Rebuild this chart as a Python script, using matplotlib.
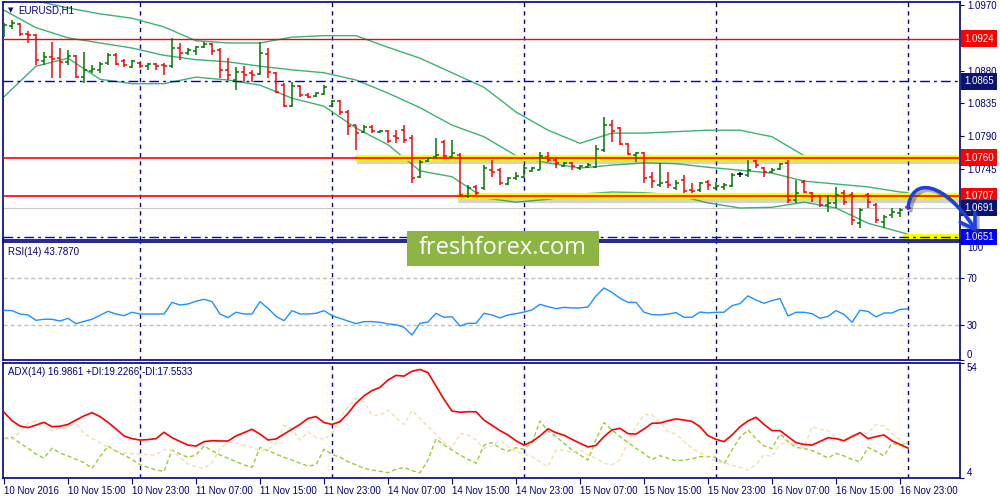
import matplotlib
matplotlib.use("Agg")
import matplotlib.pyplot as plt
import matplotlib.patheffects as pe
import matplotlib.transforms as mtransforms
from matplotlib.patches import Rectangle, FancyArrowPatch
from matplotlib.path import Path
import numpy as np

# ---- EURUSD H1 bars (10 Nov 07:00 -> 17 Nov 00:00) ----
opens = [1.0932, 1.0941, 1.0944, 1.0930, 1.0929, 1.0893, 1.0899, 1.0897, 1.0892, 1.0900,
         1.0871, 1.0879, 1.0881, 1.0890, 1.0901, 1.0893, 1.0885, 1.0890, 1.0886, 1.0889,
         1.0888, 1.0886, 1.0911, 1.0904, 1.0907, 1.0912, 1.0917, 1.0908, 1.0881, 1.0867,
         1.0878, 1.0877, 1.0875, 1.0903, 1.0877, 1.0860, 1.0831, 1.0859, 1.0846, 1.0845,
         1.0848, 1.0831, 1.0838, 1.0823, 1.0805, 1.0796, 1.0802, 1.0796, 1.0797, 1.0790,
         1.0798, 1.0787, 1.0734, 1.0756, 1.0761, 1.0782, 1.0761, 1.0764, 1.0708, 1.0720,
         1.0719, 1.0743, 1.0743, 1.0724, 1.0732, 1.0734, 1.0742, 1.0743, 1.0761, 1.0757,
         1.0749, 1.0753, 1.0746, 1.0747, 1.0747, 1.0771, 1.0805, 1.0801, 1.0779, 1.0764,
         1.0767, 1.0734, 1.0723, 1.0727, 1.0719, 1.0730, 1.0716, 1.0716, 1.0727, 1.0719,
         1.0720, 1.0721, 1.0738, 1.0736, 1.0756, 1.0746, 1.0741, 1.0745, 1.0753, 1.0702,
         1.0727, 1.0712, 1.0708, 1.0695, 1.0698, 1.0712, 1.0709, 1.0670, 1.0709, 1.0695,
         1.0672, 1.0681, 1.0684, 1.0692]
highs = [1.0945, 1.0950, 1.0945, 1.0934, 1.0930, 1.0906, 1.0919, 1.0911, 1.0908, 1.0901,
         1.0906, 1.0888, 1.0892, 1.0904, 1.0904, 1.0896, 1.0895, 1.0892, 1.0890, 1.0890,
         1.0890, 1.0925, 1.0918, 1.0911, 1.0914, 1.0919, 1.0918, 1.0911, 1.0897, 1.0885,
         1.0886, 1.0881, 1.0919, 1.0911, 1.0878, 1.0863, 1.0864, 1.0860, 1.0849, 1.0851,
         1.0860, 1.0840, 1.0840, 1.0826, 1.0805, 1.0805, 1.0805, 1.0798, 1.0798, 1.0798,
         1.0805, 1.0791, 1.0757, 1.0761, 1.0787, 1.0785, 1.0785, 1.0767, 1.0723, 1.0723,
         1.0750, 1.0757, 1.0746, 1.0734, 1.0741, 1.0750, 1.0747, 1.0768, 1.0768, 1.0760,
         1.0754, 1.0754, 1.0750, 1.0753, 1.0778, 1.0816, 1.0812, 1.0802, 1.0780, 1.0768,
         1.0768, 1.0741, 1.0753, 1.0741, 1.0730, 1.0736, 1.0725, 1.0727, 1.0730, 1.0727,
         1.0725, 1.0739, 1.0741, 1.0757, 1.0757, 1.0747, 1.0746, 1.0753, 1.0757, 1.0730,
         1.0730, 1.0713, 1.0709, 1.0709, 1.0720, 1.0716, 1.0713, 1.0691, 1.0712, 1.0698,
         1.0681, 1.0691, 1.0691, 1.0692]
lows = [1.0926, 1.0937, 1.0928, 1.0918, 1.0888, 1.0888, 1.0870, 1.0870, 1.0888, 1.0870,
        1.0863, 1.0877, 1.0877, 1.0888, 1.0888, 1.0885, 1.0884, 1.0884, 1.0881, 1.0881,
        1.0874, 1.0884, 1.0895, 1.0901, 1.0901, 1.0911, 1.0901, 1.0870, 1.0867, 1.0853,
        1.0864, 1.0864, 1.0874, 1.0870, 1.0849, 1.0830, 1.0830, 1.0844, 1.0842, 1.0844,
        1.0846, 1.0830, 1.0819, 1.0791, 1.0771, 1.0794, 1.0794, 1.0794, 1.0780, 1.0780,
        1.0780, 1.0725, 1.0732, 1.0754, 1.0760, 1.0760, 1.0760, 1.0706, 1.0705, 1.0709,
        1.0716, 1.0734, 1.0723, 1.0723, 1.0730, 1.0732, 1.0741, 1.0743, 1.0754, 1.0746,
        1.0747, 1.0743, 1.0743, 1.0746, 1.0746, 1.0768, 1.0782, 1.0778, 1.0764, 1.0754,
        1.0725, 1.0719, 1.0720, 1.0719, 1.0716, 1.0712, 1.0712, 1.0713, 1.0716, 1.0716,
        1.0716, 1.0720, 1.0734, 1.0734, 1.0746, 1.0734, 1.0739, 1.0743, 1.0698, 1.0698,
        1.0712, 1.0699, 1.0692, 1.0686, 1.0691, 1.0695, 1.0668, 1.0664, 1.0691, 1.0670,
        1.0664, 1.0677, 1.0679, 1.0688]
closes = [1.0943, 1.0945, 1.0930, 1.0929, 1.0895, 1.0899, 1.0896, 1.0892, 1.0900, 1.0871,
          1.0881, 1.0882, 1.0889, 1.0901, 1.0889, 1.0888, 1.0893, 1.0886, 1.0889, 1.0886,
          1.0886, 1.0911, 1.0904, 1.0908, 1.0912, 1.0917, 1.0907, 1.0881, 1.0874, 1.0878,
          1.0874, 1.0874, 1.0904, 1.0878, 1.0851, 1.0831, 1.0859, 1.0846, 1.0844, 1.0849,
          1.0857, 1.0838, 1.0823, 1.0804, 1.0794, 1.0802, 1.0797, 1.0797, 1.0783, 1.0787,
          1.0785, 1.0732, 1.0754, 1.0760, 1.0764, 1.0763, 1.0767, 1.0709, 1.0719, 1.0712,
          1.0746, 1.0741, 1.0725, 1.0732, 1.0735, 1.0746, 1.0746, 1.0763, 1.0757, 1.0753,
          1.0753, 1.0749, 1.0749, 1.0750, 1.0772, 1.0805, 1.0797, 1.0779, 1.0765, 1.0767,
          1.0732, 1.0728, 1.0725, 1.0723, 1.0725, 1.0714, 1.0714, 1.0725, 1.0723, 1.0721,
          1.0723, 1.0736, 1.0738, 1.0743, 1.0750, 1.0741, 1.0743, 1.0752, 1.0702, 1.0712,
          1.0713, 1.0708, 1.0695, 1.0698, 1.0709, 1.0699, 1.0675, 1.0688, 1.0699, 1.0675,
          1.0679, 1.0686, 1.0688, 1.0691]

# Bollinger bands read every 4 bars
band_idx = list(range(0, 113, 4)) + [113]
bb_upper = [1.0988, 1.0976, 1.0966, 1.0958, 1.0952, 1.0940, 1.0921, 1.0918, 1.0918, 1.0926,
            1.0928, 1.0928, 1.0912, 1.0897, 1.0877, 1.0857, 1.0823, 1.0798, 1.0780, 1.0794,
            1.0794, 1.0796, 1.0798, 1.0798, 1.0789, 1.0763, 1.0757, 1.0763, 1.0761, 1.0761]
bb_middle = [1.0963, 1.0939, 1.0925, 1.0918, 1.0911, 1.0901, 1.0895, 1.0892, 1.0886, 1.0881,
             1.0877, 1.0867, 1.0849, 1.0829, 1.0805, 1.0789, 1.0763, 1.0753, 1.0746, 1.0750,
             1.0753, 1.0752, 1.0747, 1.0743, 1.0739, 1.0728, 1.0724, 1.0720, 1.0713, 1.0712]
bb_lower = [1.0844, 1.0886, 1.0897, 1.0868, 1.0862, 1.0862, 1.0871, 1.0867, 1.0860, 1.0842,
            1.0831, 1.0801, 1.0778, 1.0742, 1.0734, 1.0705, 1.0699, 1.0703, 1.0710, 1.0713,
            1.0712, 1.0709, 1.0698, 1.0691, 1.0692, 1.0699, 1.0691, 1.0670, 1.0658, 1.0655]

rsi = [42.6, 42.3, 39.4, 38.6, 34.0, 34.9, 34.9, 33.4, 35.7, 31.1,
       33.1, 34.9, 38.3, 41.7, 39.4, 38.0, 40.9, 39.4, 39.4, 39.4,
       39.4, 49.4, 47.1, 48.0, 50.3, 52.0, 50.0, 39.4, 36.3, 40.9,
       39.4, 39.4, 50.0, 44.3, 37.4, 33.7, 42.3, 39.4, 39.4, 40.0,
       42.3, 38.0, 35.7, 33.4, 31.1, 32.9, 32.9, 32.3, 30.9, 30.3,
       28.0, 21.4, 31.4, 32.6, 40.0, 36.6, 37.1, 29.1, 31.4, 31.4,
       40.0, 38.6, 36.0, 38.6, 39.7, 41.1, 42.9, 47.7, 45.7, 44.0,
       45.1, 44.6, 44.6, 45.4, 54.9, 61.7, 58.0, 52.9, 49.4, 49.4,
       40.9, 38.9, 38.6, 39.4, 40.6, 36.6, 36.6, 41.1, 40.3, 40.9,
       40.9, 46.6, 48.3, 54.9, 51.4, 48.6, 50.9, 52.6, 37.7, 40.9,
       40.9, 39.7, 35.7, 37.4, 42.3, 39.1, 32.3, 42.6, 41.7, 36.9,
       40.3, 40.3, 43.4, 43.787]

adx = [32.6, 28.9, 26.6, 25.9, 27.0, 28.2, 26.3, 26.5, 27.3, 29.2,
       31.0, 32.4, 30.7, 28.2, 25.3, 22.3, 21.1, 20.5, 20.7, 21.1,
       23.9, 21.5, 19.9, 18.3, 17.9, 19.8, 20.2, 20.1, 20.1, 22.3,
       23.7, 25.2, 23.1, 20.5, 21.0, 23.1, 25.2, 27.3, 29.9, 30.7,
       28.1, 27.3, 28.5, 32.1, 36.5, 39.7, 42.0, 43.4, 46.6, 48.6,
       48.3, 50.4, 51.2, 49.8, 44.0, 38.2, 33.1, 32.6, 32.8, 32.8,
       29.2, 26.9, 24.6, 22.7, 20.2, 18.3, 19.8, 22.3, 25.4, 23.7,
       22.6, 20.8, 19.1, 17.5, 18.2, 22.0, 24.9, 25.6, 23.3, 23.1,
       25.3, 27.8, 27.9, 28.9, 29.7, 29.2, 28.6, 26.3, 22.4, 20.8,
       19.8, 22.7, 26.3, 28.8, 30.4, 27.3, 24.6, 24.6, 22.0, 19.4,
       18.6, 18.3, 19.9, 21.5, 21.1, 20.2, 22.0, 23.7, 21.1, 22.0,
       22.7, 20.2, 18.6, 16.9861]
plus_di = [21.2, 21.7, 19.1, 16.9, 14.4, 12.6, 16.9, 14.9, 13.6, 12.1,
           10.7, 8.2, 13.3, 17.9, 15.6, 14.0, 12.1, 9.8, 8.6, 7.5,
           6.9, 16.2, 14.4, 13.0, 14.0, 17.9, 15.9, 14.0, 12.6, 11.1,
           9.7, 8.6, 17.3, 15.9, 14.4, 13.0, 11.8, 10.4, 9.2, 9.7,
           16.5, 14.3, 13.0, 11.1, 9.7, 8.2, 7.5, 6.9, 6.3, 7.8,
           8.6, 7.2, 6.3, 11.8, 21.0, 18.3, 16.2, 14.0, 12.1, 10.4,
           18.3, 19.4, 16.9, 15.7, 17.2, 16.5, 19.4, 28.8, 24.4, 22.0,
           19.1, 16.2, 14.0, 11.8, 20.8, 28.1, 24.9, 22.0, 19.4, 16.9,
           14.6, 12.1, 13.7, 12.6, 11.5, 11.8, 12.3, 13.3, 13.3, 13.0,
           10.1, 16.2, 21.7, 24.9, 21.1, 17.9, 16.8, 23.1, 19.8, 17.3,
           16.9, 15.9, 14.4, 12.7, 14.7, 13.6, 12.1, 11.1, 17.3, 15.6,
           13.6, 19.1, 18.3, 19.2266]
minus_di = [21.1, 20.8, 24.1, 27.8, 28.9, 27.2, 24.6, 25.6, 26.6, 27.5,
            23.4, 21.2, 19.4, 17.3, 15.9, 14.9, 14.6, 14.4, 14.1, 14.0,
            16.5, 15.9, 13.0, 10.1, 8.9, 8.2, 10.7, 16.9, 19.4, 19.3,
            18.2, 17.3, 15.9, 16.5, 19.1, 26.9, 25.2, 20.5, 24.1, 21.7,
            20.8, 23.4, 29.9, 35.0, 38.6, 37.2, 31.4, 31.2, 33.6, 30.2,
            27.3, 33.3, 29.9, 26.3, 23.1, 19.3, 17.0, 23.4, 22.7, 20.5,
            16.9, 17.9, 20.5, 17.6, 15.6, 14.3, 13.3, 11.1, 8.9, 15.9,
            16.2, 15.0, 16.2, 14.0, 12.6, 10.4, 9.7, 11.8, 19.8, 26.3,
            31.5, 31.6, 28.2, 24.1, 23.1, 19.9, 16.9, 15.0, 13.0, 11.5,
            10.7, 9.5, 8.6, 7.5, 9.8, 14.0, 13.4, 18.8, 19.4, 18.3,
            16.9, 26.3, 25.2, 24.6, 21.7, 20.5, 22.7, 23.4, 23.4, 27.3,
            26.6, 23.4, 20.5, 17.5533]

time_ticks = ['10 Nov 2016', '10 Nov 15:00', '10 Nov 23:00', '11 Nov 07:00', '11 Nov 15:00',
              '11 Nov 23:00', '14 Nov 07:00', '14 Nov 15:00', '14 Nov 23:00', '15 Nov 07:00',
              '15 Nov 15:00', '15 Nov 23:00', '16 Nov 07:00', '16 Nov 15:00', '16 Nov 23:00']
day_starts = [17, 41, 65, 89, 113]

price_ticks = [1.0970, 1.0880, 1.0835, 1.0790, 1.0745]
level_resist = 1.0924
level_pivot = 1.0865
level_zone_hi = 1.0760
level_zone_lo = 1.0707
level_support = 1.0651

NAVY = '#000080'
BB_GREEN = '#3cb371'
plt.rcParams['font.family'] = ['Liberation Sans', 'DejaVu Sans']

n = len(closes)
x = np.arange(n)
o = np.array(opens); c = np.array(closes)
cols = np.where(c > o, '#007800', np.where(c < o, '#ff0000', '#000000'))

fig = plt.figure(figsize=(10, 5), dpi=100)
ax = fig.add_axes([0.003, 0.52, 0.957, 0.476])
ax_rsi = fig.add_axes([0.003, 0.28, 0.957, 0.236])
ax_adx = fig.add_axes([0.003, 0.044, 0.957, 0.23])

for a in (ax, ax_rsi, ax_adx):
    a.set_xlim(-0.125, 119.5)
    for s in a.spines.values():
        s.set_color(NAVY); s.set_linewidth(1.2)
    a.yaxis.tick_right()
    a.tick_params(axis='y', colors=NAVY, labelsize=7, length=3, pad=2, labelcolor=NAVY)
    for d in day_starts:
        a.axvline(d, color=NAVY, lw=1, ls=(0, (3, 3)), zorder=1)
for a in (ax, ax_rsi):
    a.set_xticks([])

# ---- price panel ----
ax.set_ylim(1.0647, 1.09743)
ax.plot(band_idx, bb_upper, color=BB_GREEN, lw=1, zorder=2)
ax.plot(band_idx, bb_middle, color=BB_GREEN, lw=1, zorder=2)
ax.plot(band_idx, bb_lower, color=BB_GREEN, lw=1, zorder=2)

shadow = [pe.SimpleLineShadow(offset=(1, -2.5), shadow_color='#707070', alpha=0.3), pe.Normal()]
ax.hlines(level_zone_hi, 43.9, 119.5, color='#ffff00', lw=4.5, path_effects=shadow, zorder=2)
ax.hlines(level_zone_lo, 56.6, 119.5, color='#ffff00', lw=4.5, path_effects=shadow, zorder=2)
ax.hlines(level_support, 112.4, 119.5, color='#ffff00', lw=4.5, path_effects=shadow, zorder=2)

ax.axhline(level_resist, color='#ff0000', lw=1, zorder=3)
ax.axhline(level_zone_hi, color='#ff0000', lw=1.2, zorder=3)
ax.axhline(level_zone_lo, color='#ff0000', lw=1.2, zorder=3)
ax.axhline(level_pivot, color='#0000c8', lw=1, ls=(0, (7, 3, 2, 3)), zorder=3)
ax.axhline(level_support, color='#0000ff', lw=1, ls=(0, (7, 3, 2, 3)), zorder=3)
ax.axhline(closes[-1], color='#c8c8c8', lw=0.8, zorder=1)

ax.vlines(x, lows, highs, colors=cols, lw=1.1, zorder=4)
ax.hlines(opens, x - 0.4, x, colors=cols, lw=1.1, zorder=4)
ax.hlines(closes, x, x + 0.4, colors=cols, lw=1.1, zorder=4)

ax.set_yticks(price_ticks)
ax.set_yticklabels([f'{v:.4f}' for v in price_ticks])

trans = mtransforms.blended_transform_factory(ax.transAxes, ax.transData)
boxed = [(level_resist, '#ff0000'), (level_pivot, '#0a1470'), (level_zone_hi, '#ff0000'),
         (level_zone_lo, '#ff0000'), (closes[-1], '#0a1470'), (level_support, '#0000ff')]
for val, fc in boxed:
    ax.text(1.0045, val, f'{val:.4f}', transform=trans, ha='left', va='center', color='white',
            fontsize=7, clip_on=False, zorder=6,
            bbox=dict(boxstyle='square,pad=0.35', fc=fc, ec='none'))

ax.text(0.005, 0.966, '\u25bc', transform=ax.transAxes, color=NAVY, fontsize=5, va='center',
        family='DejaVu Sans')
ax.text(0.0157, 0.966, 'EURUSD,H1', transform=ax.transAxes, color=NAVY, fontsize=7, va='center')

# forecast arrow: from last close, up to the 1.0707 zone, then down to support
start = (x[-1], closes[-1])
ctrl1 = (x[-1] + 0.5, closes[-1] + 0.0045)
ctrl2 = (x[-1] + 4.6, closes[-1] + 0.0036)
end = (x[-1] + 8.6, level_support + 0.0007)
arc = Path([start, ctrl1, ctrl2, end], [Path.MOVETO, Path.CURVE4, Path.CURVE4, Path.CURVE4])
arrow = FancyArrowPatch(path=arc, arrowstyle='->,head_length=0.55,head_width=0.35',
                        mutation_scale=18, lw=2.6, color='#1f3fe0', transform=ax.transData,
                        clip_on=False, zorder=7,
                        path_effects=[pe.SimpleLineShadow(offset=(2, -2), shadow_color='#303060',
                                                          alpha=0.4), pe.Normal()])
ax.add_patch(arrow)

# ---- RSI panel ----
ax_rsi.set_ylim(0, 101.1)
ax_rsi.axhline(70, color='#c0c0c0', lw=1, ls=(0, (3, 2)), zorder=1)
ax_rsi.axhline(30, color='#c0c0c0', lw=1, ls=(0, (3, 2)), zorder=1)
ax_rsi.plot(x, rsi, color='#1e90ff', lw=1, zorder=3)
ax_rsi.set_yticks([100, 70, 30, 0])
ax_rsi.set_yticklabels(['100', '70', '30', '0'])
rl = ax_rsi.get_yticklabels()
rl[0].set_va('top'); rl[-1].set_va('bottom')
ax_rsi.text(0.005, 0.915, f'RSI(14) {rsi[-1]:.4f}', transform=ax_rsi.transAxes,
            color=NAVY, fontsize=7, va='center')

# ---- ADX panel ----
ax_adx.set_ylim(4, 54)
ax_adx.plot(x, plus_di, color='#9acd32', lw=1, ls=(0, (3, 2)), zorder=2)
ax_adx.plot(x, minus_di, color='#f5deb3', lw=1, ls=(0, (3, 2)), zorder=2)
ax_adx.plot(x, adx, color='#ff0000', lw=1.2, zorder=3)
ax_adx.set_yticks([54, 4])
ax_adx.set_yticklabels(['54', '4'])
al = ax_adx.get_yticklabels()
al[0].set_va('top'); al[-1].set_va('bottom')
ax_adx.text(0.005, 0.92, f'ADX(14) {adx[-1]:.4f} +DI:{plus_di[-1]:.4f} -DI:{minus_di[-1]:.4f}',
            transform=ax_adx.transAxes, color=NAVY, fontsize=7, va='center')

ax_adx.set_xticks(range(0, 113, 8))
ax_adx.set_xticklabels(time_ticks, ha='left')
ax_adx.tick_params(axis='x', colors=NAVY, labelsize=7, length=4, pad=2, labelcolor=NAVY)

# ---- watermark ----
fig.patches.append(Rectangle((0.407, 0.468), 0.192, 0.07, transform=fig.transFigure,
                             fc='#8db543', ec='none', zorder=5))
fig.text(0.503, 0.503, 'freshforex.com', color='white', fontsize=17, family='Open Sans',
         ha='center', va='center', zorder=6)

fig.savefig('out.png', dpi=100)
